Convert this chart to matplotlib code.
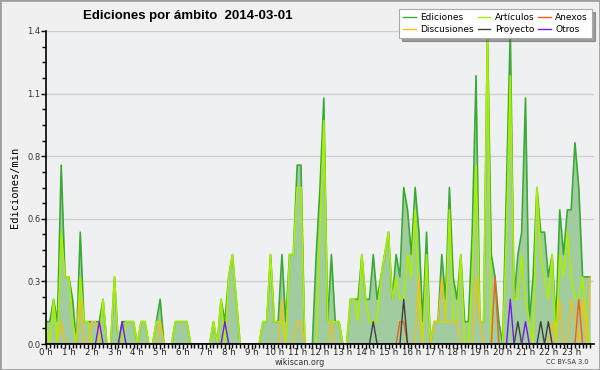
import matplotlib
matplotlib.use('Agg')
import matplotlib.pyplot as plt
import numpy as np
from matplotlib.patches import Rectangle
from matplotlib.lines import Line2D

# edits per 10-minute slot, 00:00 .. 23:50 (144 slots)
ediciones = [1, 1, 2, 1, 8, 3, 3, 2, 0, 5, 1, 1, 1, 1, 1, 2, 0, 0, 3, 0, 1, 1, 1, 1,
             0, 1, 1, 0, 0, 1, 2, 0, 0, 0, 1, 1, 1, 1, 0, 0, 0, 0, 0, 0, 1, 0, 2, 1,
             3, 4, 2, 0, 0, 0, 0, 0, 0, 1, 1, 4, 1, 1, 4, 1, 4, 4, 8, 8, 0, 0, 0, 4,
             7, 11, 1, 4, 1, 1, 0, 0, 2, 2, 2, 4, 2, 2, 4, 2, 3, 4, 5, 2, 4, 3, 7, 6,
             4, 7, 5, 1, 5, 0, 1, 1, 4, 2, 7, 3, 2, 4, 1, 1, 5, 12, 1, 1, 14, 4, 3, 1,
             0, 7, 14, 2, 4, 5, 11, 1, 3, 7, 5, 5, 3, 4, 1, 6, 4, 6, 6, 9, 7, 3, 3, 3]
articulos = [1, 0, 2, 0, 5, 3, 3, 1, 0, 3, 1, 1, 0, 0, 0, 2, 0, 0, 3, 0, 0, 1, 1, 1,
             0, 1, 1, 0, 0, 1, 1, 0, 0, 0, 1, 1, 1, 1, 0, 0, 0, 0, 0, 0, 1, 0, 2, 0,
             3, 4, 2, 0, 0, 0, 0, 0, 0, 1, 1, 4, 1, 1, 1, 0, 4, 4, 7, 7, 0, 0, 0, 0,
             5, 10, 1, 1, 1, 1, 0, 0, 2, 2, 1, 4, 2, 1, 1, 1, 3, 4, 5, 2, 3, 2, 2, 4,
             3, 6, 2, 0, 4, 0, 1, 1, 1, 1, 6, 1, 1, 4, 0, 0, 3, 8, 1, 1, 14, 0, 0, 0,
             0, 5, 12, 2, 2, 4, 2, 1, 0, 7, 4, 3, 2, 4, 0, 4, 3, 5, 3, 2, 2, 3, 1, 0]
discusiones = [0, 0, 0, 0, 1, 0, 0, 0, 0, 2, 0, 0, 1, 1, 0, 0, 0, 0, 0, 0, 0, 0, 0, 0,
               0, 0, 0, 0, 0, 0, 1, 0, 0, 0, 0, 0, 0, 0, 0, 0, 0, 0, 0, 0, 0, 0, 0, 0,
               0, 0, 0, 0, 0, 0, 0, 0, 0, 0, 0, 0, 0, 0, 2, 0, 0, 0, 1, 1, 0, 0, 0, 0,
               0, 0, 0, 1, 0, 0, 0, 0, 0, 0, 0, 0, 0, 0, 0, 0, 0, 0, 0, 0, 0, 0, 0, 0,
               0, 0, 3, 0, 0, 0, 1, 1, 3, 1, 1, 1, 1, 0, 0, 0, 0, 3, 1, 0, 0, 0, 0, 0,
               0, 0, 0, 0, 0, 0, 0, 0, 0, 0, 0, 0, 0, 1, 0, 2, 0, 0, 2, 1, 0, 2, 0, 3]
anexos = [0] * 93 + [1, 1] + [0] * 23 + [3] + [0] * 21 + [2, 0, 0, 0]
proyecto = [0] * 86 + [1] + [0] * 7 + [2] + [0] * 29 + [1] + [0] * 5 + [1, 0, 1] + [0] * 11
otros = [0] * 14 + [1] + [0] * 5 + [1] + [0] * 26 + [1] + [0] * 74 + [2, 0, 0, 0, 1] + [0] * 17

hour_labels = ['%d h' % h for h in range(24)]
y_labels = ['0.0', '0.3', '0.6', '0.8', '1.1', '1.4']

t = np.arange(0, 1440, 10) / 60.0   # slot start, in hours

series = [
    ('Artículos', articulos, '#aaee00', 1.2),
    ('Discusiones', discusiones, '#f2c018', 1.0),
    ('Anexos', anexos, '#f06018', 1.0),
    ('Proyecto', proyecto, '#404040', 1.0),
    ('Otros', otros, '#7a18e8', 1.0),
]

fig = plt.figure(figsize=(6, 3.7), dpi=100, facecolor='#f0f0f0')
ax = fig.add_axes([46 / 600, 1 - 344 / 370, 548 / 600, 313 / 370])
ax.set_facecolor('#eef0f2')

ed = np.array(ediciones) / 10.0
ax.fill_between(t, ed, color='#a0cca0', lw=0, zorder=2)
ax.plot(t, ed, color='#3aaa35', lw=1.2, zorder=3)
for name, vals, col, lw in series:
    ax.plot(t, np.array(vals) / 10.0, color=col, lw=lw, zorder=4)

ax.set_xlim(0, 24)
ax.set_ylim(0, 1.4)
yt = np.linspace(0, 1.4, 6)
ax.set_yticks(yt)
ax.set_yticklabels(y_labels, fontsize=6, color='#333333')
ax.set_yticks(np.linspace(0, 1.4, 21), minor=True)
ax.set_xticks(range(24))
ax.set_xticklabels(hour_labels, fontsize=6.2, color='#222222')
ax.set_xticks(np.arange(0, 24, 1 / 6), minor=True)
ax.tick_params(axis='both', which='major', length=3.5, width=1, pad=0.5, direction='out')
ax.tick_params(axis='x', which='major', pad=-0.5)
ax.tick_params(axis='both', which='minor', length=3, width=1, direction='out')
ax.yaxis.grid(True, color='#cfcfcf', lw=1)
ax.set_axisbelow(True)
for s in ['top', 'right']:
    ax.spines[s].set_visible(False)
for s in ['left', 'bottom']:
    ax.spines[s].set_linewidth(1.2)
    ax.spines[s].set_zorder(6)

ax.set_ylabel('Ediciones/min', family='DejaVu Sans Mono', fontsize=7.5, labelpad=5)

fig.text(188 / 600, 1 - 16 / 370, 'Ediciones por ámbito  2014-03-01', ha='center',
         va='center', fontsize=9.5, fontweight='bold', family='Liberation Sans')
fig.text(300 / 600, 1 - 362.5 / 370, 'wikiscan.org', ha='center', va='center',
         fontsize=5.8, color='#333333')
fig.text(589 / 600, 1 - 362.5 / 370, 'CC BY-SA 3.0', ha='right', va='center',
         fontsize=4.8, color='#333333')

handles = [Line2D([], [], color='#3aaa35', lw=1),
           Line2D([], [], color='#f2c018', lw=1),
           Line2D([], [], color='#aaee00', lw=1),
           Line2D([], [], color='#404040', lw=1),
           Line2D([], [], color='#f06018', lw=1),
           Line2D([], [], color='#7a18e8', lw=1)]
labels = ['Ediciones', 'Discusiones', 'Artículos', 'Proyecto', 'Anexos', 'Otros']
leg = fig.legend(handles, labels, loc='upper right', bbox_to_anchor=(592 / 600, 1 - 9 / 370),
                 ncol=3, fontsize=6.5, frameon=True, shadow=True, fancybox=False,
                 handlelength=1.4, columnspacing=0.4, labelspacing=0.3,
                 borderpad=0.45, handletextpad=0.5, borderaxespad=0)
leg.get_frame().set_edgecolor('#aaaaaa')
leg.get_frame().set_linewidth(0.8)

fig.patches.append(Rectangle((0, 0), 1, 1, transform=fig.transFigure, fill=False,
                             edgecolor='#a0a0a0', lw=2))

fig.savefig('out.png', dpi=100, facecolor=fig.get_facecolor())
